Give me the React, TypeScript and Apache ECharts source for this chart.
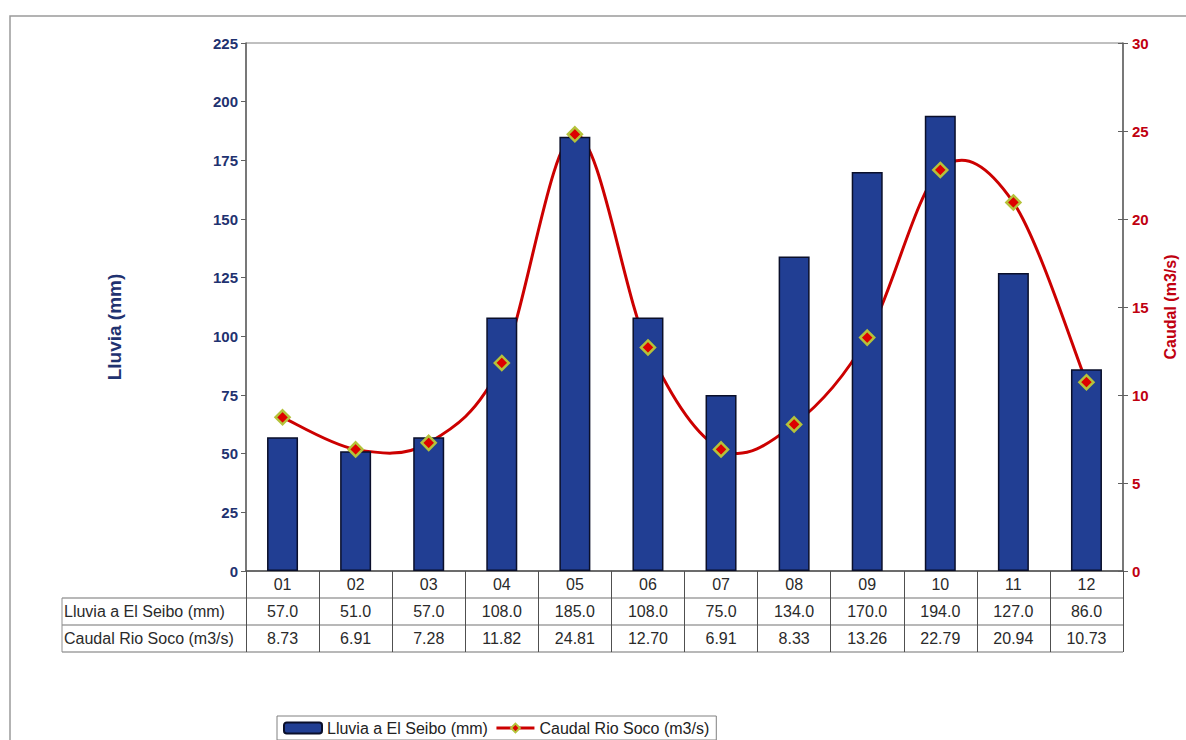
import React, { useEffect, useRef } from "react";
import * as echarts from "echarts";

const months = ["01", "02", "03", "04", "05", "06", "07", "08", "09", "10", "11", "12"];
const lluvia = [57.0, 51.0, 57.0, 108.0, 185.0, 108.0, 75.0, 134.0, 170.0, 194.0, 127.0, 86.0];
const caudal = [8.73, 6.91, 7.28, 11.82, 24.81, 12.7, 6.91, 8.33, 13.26, 22.79, 20.94, 10.73];
const lluviaName = "Lluvia a El Seibo (mm)";
const caudalName = "Caudal Rio Soco (m3/s)";

const FONT = "Arial, 'Liberation Sans', sans-serif";
const RED = "#CC0000";
const NAVY = "#1F3270";

export default function App() {
  const ref = useRef<HTMLDivElement>(null);
  useEffect(() => {
    if (!ref.current) return;
    const chart = echarts.init(ref.current, null, { renderer: "svg" });
    const L = 246, R = 1123, T = 43, B = 571;
    const rowH = 27;
    const tableLeft = 62;
    const n = caudal.length;
    const option: any = {
      animation: false,
      backgroundColor: "#ffffff",
      textStyle: { fontFamily: FONT },
      grid: {
        left: L, right: 1186 - R, top: T, bottom: 740 - B,
        show: true, borderColor: "#808080", borderWidth: 1,
      },
      legend: {
        left: 277, top: 716,
        itemWidth: 38, itemHeight: 11, itemGap: 7,
        padding: [4, 7, 4, 6],
        borderColor: "#808080", borderWidth: 1,
        textStyle: { fontFamily: FONT, fontSize: 16, color: "#222" },
        data: [
          lluviaName,
          { name: caudalName, lineStyle: { color: RED, width: 3, opacity: 1 } },
        ],
      },
      xAxis: {
        type: "category",
        data: months,
        boundaryGap: true,
        axisLine: { lineStyle: { color: "#505050", width: 1.5 } },
        axisTick: { show: true, length: rowH * 3, lineStyle: { color: "#505050", width: 1 } },
        axisLabel: {
          margin: 0,
          formatter: (v: string, i: number) =>
            `{a|${v}}\n{a|${lluvia[i].toFixed(1)}}\n{a|${caudal[i].toFixed(2)}}`,
          rich: { a: { fontFamily: FONT, fontSize: 16, color: "#2a2a2a", lineHeight: rowH } },
        },
      },
      yAxis: [
        {
          type: "value", min: 0, max: 225, interval: 25,
          name: "Lluvia (mm)", nameLocation: "middle", nameGap: 122, nameRotate: 90,
          nameTextStyle: { fontFamily: FONT, fontSize: 19, fontWeight: "bold", color: NAVY, padding: [0, 0, 0, -40] },
          axisLine: { show: true, lineStyle: { color: "#606060", width: 1.5 } },
          axisTick: { show: true, length: 5, lineStyle: { color: "#606060" } },
          axisLabel: { margin: 8, fontFamily: FONT, fontSize: 15, fontWeight: "bold", color: NAVY },
          splitLine: { show: false },
        },
        {
          type: "value", min: 0, max: 30, interval: 5, position: "right",
          name: "Caudal (m3/s)", nameLocation: "middle", nameGap: 39, nameRotate: 90,
          nameTextStyle: { fontFamily: FONT, fontSize: 16, fontWeight: "bold", color: "#C00010" },
          axisLine: { show: true, lineStyle: { color: "#606060", width: 1.5 } },
          axisTick: { show: true, length: 5, lineStyle: { color: "#606060" } },
          axisLabel: { margin: 9, fontFamily: FONT, fontSize: 15, fontWeight: "bold", color: "#C00010" },
          splitLine: { show: false },
        },
        {
          type: "value", min: 0, max: 30, interval: 5, position: "right",
          axisLine: { show: false },
          axisTick: { show: true, inside: true, length: 5, lineStyle: { color: "#606060" } },
          axisLabel: { show: false },
          splitLine: { show: false },
        },
      ],
      series: [
        {
          name: lluviaName, type: "bar", data: lluvia, yAxisIndex: 0, barWidth: 31,
          itemStyle: { color: "#213E93", borderColor: "#0A0F2A", borderWidth: 1.5 },
        },
        {
          name: "curve", type: "custom", yAxisIndex: 1, z: 2,
          data: caudal.map((v, i) => [i, v]),
          renderItem: (params: any, api: any) => {
            const i = params.dataIndex;
            if (i >= n - 1) return null;
            const p = (k: number) => {
              const j = Math.min(Math.max(k, 0), n - 1);
              return api.coord([j, caudal[j]]);
            };
            const P0 = p(i - 1), P1 = p(i), P2 = p(i + 1), P3 = p(i + 2);
            return {
              type: "bezierCurve",
              shape: {
                x1: P1[0], y1: P1[1], x2: P2[0], y2: P2[1],
                cpx1: P1[0] + (P2[0] - P0[0]) / 6, cpy1: P1[1] + (P2[1] - P0[1]) / 6,
                cpx2: P2[0] - (P3[0] - P1[0]) / 6, cpy2: P2[1] - (P3[1] - P1[1]) / 6,
              },
              style: { stroke: RED, lineWidth: 3, fill: null },
            };
          },
        },
        {
          name: caudalName, type: "line", data: caudal, yAxisIndex: 1,
          symbol: "diamond", symbolSize: 14,
          lineStyle: { color: RED, width: 3, opacity: 0 },
          itemStyle: { color: "#DD0000", borderColor: "#B5C23A", borderWidth: 2.5 },
          z: 3,
        },
      ],
      graphic: [
        { type: "rect", shape: { x: 10, y: 16, width: 1300, height: 900 }, style: { fill: "none", stroke: "#9a9a9a", lineWidth: 1.5 }, silent: true },
        { type: "line", shape: { x1: tableLeft, y1: B + rowH, x2: R, y2: B + rowH }, style: { stroke: "#a0a0a0", lineWidth: 1.5 } },
        { type: "line", shape: { x1: tableLeft, y1: B + rowH * 2, x2: R, y2: B + rowH * 2 }, style: { stroke: "#a0a0a0", lineWidth: 1.5 } },
        { type: "line", shape: { x1: tableLeft, y1: B + rowH * 3, x2: R, y2: B + rowH * 3 }, style: { stroke: "#a0a0a0", lineWidth: 1.5 } },
        { type: "line", shape: { x1: tableLeft, y1: B + rowH, x2: tableLeft, y2: B + rowH * 3 }, style: { stroke: "#909090", lineWidth: 1 } },
        { type: "text", x: 64, y: B + rowH * 1.5, style: { text: lluviaName, font: `16px ${FONT}`, fill: "#2a2a2a", textVerticalAlign: "middle" } },
        { type: "text", x: 64, y: B + rowH * 2.5, style: { text: caudalName, font: `16px ${FONT}`, fill: "#2a2a2a", textVerticalAlign: "middle" } },
      ],
    };
    chart.setOption(option);
    return () => chart.dispose();
  }, []);
  return <div ref={ref} style={{ position: "fixed", left: 0, top: 0, width: 1186, height: 740 }} />;
}
